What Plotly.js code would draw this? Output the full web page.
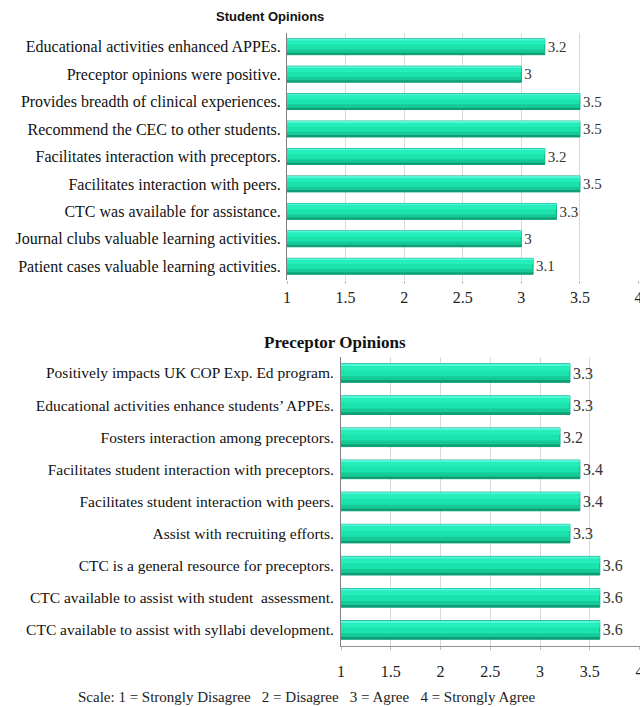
<!DOCTYPE html>
<html>
<head>
<meta charset="utf-8">
<script src="https://cdn.plot.ly/plotly-3.0.1.min.js"></script>
<style>html,body{margin:0;padding:0;background:#fff;}#chart{width:640px;height:707px;}</style>
</head>
<body>
<div id="chart"></div>
<script>
const studentItems = [
  "Educational activities enhanced APPEs.",
  "Preceptor opinions were positive.",
  "Provides breadth of clinical experiences.",
  "Recommend the CEC to other students.",
  "Facilitates interaction with preceptors.",
  "Facilitates interaction with peers.",
  "CTC was available for assistance.",
  "Journal clubs valuable learning activities.",
  "Patient cases valuable learning activities."
];
const studentScores = [3.2, 3, 3.5, 3.5, 3.2, 3.5, 3.3, 3, 3.1];

const preceptorItems = [
  "Positively impacts UK COP Exp. Ed program.",
  "Educational activities enhance students\u2019 APPEs.",
  "Fosters interaction among preceptors.",
  "Facilitates student interaction with preceptors.",
  "Facilitates student interaction with peers.",
  "Assist with recruiting efforts.",
  "CTC is a general resource for preceptors.",
  "CTC available to assist with student  assessment.",
  "CTC available to assist with syllabi development."
];
const preceptorScores = [3.3, 3.3, 3.2, 3.4, 3.4, 3.3, 3.6, 3.6, 3.6];

const tickVals = [1, 1.5, 2, 2.5, 3, 3.5, 4];
const tickText = ["1", "1.5", "2", "2.5", "3", "3.5", "4"];

const serif = "Liberation Serif";

// bar strips to imitate the 3D gradient look
const strips = [
  {offset: -0.29, width: 0.58, color: "#1be3ab", main: true},
  {offset: -0.29, width: 0.07, color: "#52f6da"},
  {offset: -0.22, width: 0.14, color: "#24eeb9"},
  {offset: 0.10, width: 0.12, color: "#16ca98"},
  {offset: 0.22, width: 0.07, color: "#0e9c74"}
];

function makeTraces(items, scores, xa, ya) {
  return strips.map(s => ({
    type: "bar",
    orientation: "h",
    y: items,
    x: scores,
    base: 0,
    xaxis: xa,
    yaxis: ya,
    width: s.width,
    offset: s.offset,
    marker: {color: s.color, line: {width: s.main ? 1 : 0, color: "#12a880"}},
    text: s.main ? scores.map(v => String(v)) : null,
    textposition: s.main ? "outside" : "none",
    textfont: {family: serif, size: 16, color: "#333"},
    cliponaxis: false,
    hoverinfo: "skip",
    showlegend: false
  }));
}

const data = [
  ...makeTraces(studentItems, studentScores, "x", "y"),
  ...makeTraces(preceptorItems, preceptorScores, "x2", "y2")
];

const xCommon = {
  range: [1, 4.004],
  tickvals: tickVals,
  ticktext: tickText,
  showgrid: true,
  gridcolor: "#d9d9d9",
  gridwidth: 1,
  zeroline: false,
  tickfont: {family: serif, size: 16, color: "#222"},
  ticklabeloverflow: "allow",
  fixedrange: true
};

const layout = {
  width: 640,
  height: 707,
  margin: {l: 0, r: 0, t: 0, b: 0},
  paper_bgcolor: "#fff",
  plot_bgcolor: "#fff",
  barmode: "overlay",
  showlegend: false,
  font: {family: serif},
  xaxis: Object.assign({}, xCommon, {
    domain: [287/640, 639/640], anchor: "y",
    showline: false, ticks: "outside", ticklen: 3, tickcolor: "#bbb",
    ticklabelstandoff: 0
  }),
  yaxis: {
    domain: [1 - 280/707, 1 - 33/707], anchor: "x",
    type: "category", autorange: "reversed",
    showline: true, linecolor: "#808080", linewidth: 1,
    ticks: "", ticklabelstandoff: 2,
    tickfont: {family: serif, size: 16, color: "#111"},
    showgrid: false, fixedrange: true
  },
  xaxis2: Object.assign({}, xCommon, {
    domain: [341/640, 1], anchor: "y2",
    showline: true, linecolor: "#909090", linewidth: 1,
    ticks: "outside", ticklen: 3, tickcolor: "#bbb",
    ticklabelstandoff: 8
  }),
  yaxis2: {
    domain: [1 - 646/707, 1 - 357/707], anchor: "x2",
    type: "category", autorange: "reversed",
    showline: true, linecolor: "#808080", linewidth: 1,
    ticks: "", ticklabelstandoff: 3,
    tickfont: {family: serif, size: 15.5, color: "#111"},
    showgrid: false, fixedrange: true
  },
  annotations: [
    {text: "<b>Student Opinions</b>", xref: "paper", yref: "paper",
     x: 270/640, y: 1 - 16/707, xanchor: "center", yanchor: "middle", showarrow: false,
     font: {family: "Liberation Sans", size: 13, color: "#111"}},
    {text: "<b>Preceptor Opinions</b>", xref: "paper", yref: "paper",
     x: 335/640, y: 1 - 342/707, xanchor: "center", yanchor: "middle", showarrow: false,
     font: {family: serif, size: 17, color: "#111"}},
    {text: "Scale: 1 = Strongly Disagree &nbsp; 2 = Disagree &nbsp; 3 = Agree &nbsp; 4 = Strongly Agree",
     xref: "paper", yref: "paper",
     x: 306/640, y: 1 - 697/707, xanchor: "center", yanchor: "middle", showarrow: false,
     font: {family: serif, size: 15, color: "#222"}}
  ]
};

Plotly.newPlot("chart", data, layout, {displayModeBar: false, staticPlot: true});
</script>
</body>
</html>
